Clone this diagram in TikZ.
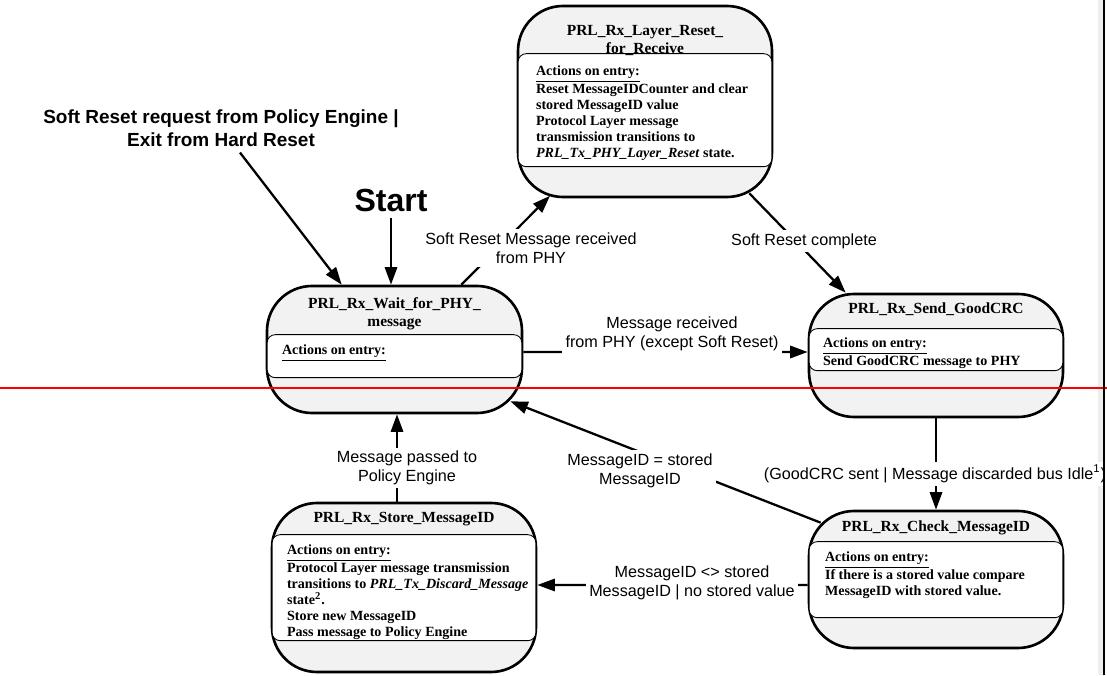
\documentclass[tikz,border=0pt]{standalone}
\usepackage{fontspec}
\setmainfont{Liberation Serif}
\newfontfamily\sansfam{Liberation Sans}
\usetikzlibrary{positioning,arrows.meta,calc}
\definecolor{stategray}{RGB}{242,242,242}
\definecolor{stripgray}{RGB}{238,238,238}

\begin{document}
\begin{tikzpicture}[
  statebox/.style={draw, line width=1.5pt, rounded corners=0.9cm, fill=stategray, inner sep=0pt},
  inbox/.style={draw, line width=0.5pt, rounded corners=0.16cm, fill=white},
  title/.style={font=\bfseries\fontsize{8.8}{10.2}\selectfont, align=center, inner sep=0pt},
  body/.style={font=\bfseries\fontsize{8}{9}\selectfont, align=left, anchor=north west, inner sep=0pt},
  lbl/.style={font=\sansfam\fontsize{9.2}{10.8}\selectfont, align=center, fill=white, inner sep=1.8pt},
  arr/.style={line width=1.3pt, -{Triangle[length=10pt,width=7pt]}}
]
  \useasboundingbox (0,0) rectangle (22.14,13.5);
  \fill[stripgray] (21.96,0) rectangle (22.06,13.5);

  % states
  \node[statebox, minimum width=5.08cm, minimum height=3.82cm] (reset) at (12.9,11.47) {};
  \node[statebox, minimum width=5.10cm, minimum height=2.54cm] (wait) at (7.89,6.51) {};
  \node[statebox, minimum width=5.08cm, minimum height=2.46cm] (send) at (18.72,6.39) {};
  \node[statebox, minimum width=5.28cm, minimum height=3.38cm] (store) at (8.08,1.75) {};
  \node[statebox, minimum width=5.08cm, minimum height=2.74cm] (check) at (18.72,1.91) {};
  \foreach \n/\a/\b in {reset/0.98/3.24, wait/1.0/1.86, send/0.72/1.56, store/0.66/2.78, check/0.64/2.16}
    \draw[inbox] ([shift={(0.03,-\a)}]\n.north west) rectangle ([shift={(-0.03,-\b)}]\n.north east);

  \node[title] (reset-t) at ([yshift=-0.72cm]reset.north) {PRL\_Rx\_Layer\_Reset\_\\for\_Receive};
  \node[title] (wait-t) at ([yshift=-0.58cm]wait.north) {PRL\_Rx\_Wait\_for\_PHY\_\\message};
  \node[title] (send-t) at ([yshift=-0.34cm]send.north) {PRL\_Rx\_Send\_GoodCRC};
  \node[title] (store-t) at ([yshift=-0.34cm]store.north) {PRL\_Rx\_Store\_MessageID};
  \node[title] (check-t) at ([yshift=-0.36cm]check.north) {PRL\_Rx\_Check\_MessageID};

  \node[body] (reset-b) at ([shift={(0.38,-1.22)}]reset.north west) {\underline{Actions on entry:}\\Reset MessageIDCounter and clear\\stored MessageID value\\Protocol Layer message\\transmission transitions to\\\textit{PRL\_Tx\_PHY\_Layer\_Reset} state.};
  \node[body] (wait-b) at ([shift={(0.32,-1.2)}]wait.north west) {\underline{Actions on entry:}};
  \node[body] (send-b) at ([shift={(0.3,-0.9)}]send.north west) {\underline{Actions on entry:}\\Send GoodCRC message to PHY};
  \node[body] (store-b) at ([shift={(0.32,-0.86)}]store.north west) {\underline{Actions on entry:}\\Protocol Layer message transmission\\transitions to \textit{PRL\_Tx\_Discard\_Message}\\state\textsuperscript{2}.\\Store new MessageID\\Pass message to Policy Engine};
  \node[body] (check-b) at ([shift={(0.34,-0.84)}]check.north west) {\underline{Actions on entry:}\\If there is a stored value compare\\MessageID with stored value.};

  % entries
  \node[font=\sansfam\bfseries\fontsize{10.8}{13}\selectfont, align=center] (srq) at (4.42,10.94) {Soft Reset request from Policy Engine |\\Exit from Hard Reset};
  \node[font=\sansfam\bfseries\fontsize{18.2}{20}\selectfont] (start) at (7.82,9.5) {Start};
  \draw[arr] ([xshift=0.38cm]srq.south) -- ([xshift=1.52cm]wait.north west);
  \draw[arr] (start.south) -- (start.south |- wait.north);

  % transitions
  \draw[arr] ([xshift=-1.24cm]wait.north east) -- ([shift={(-1.9,0.05)}]reset.south);
  \draw[arr] ([shift={(-0.48,0.1)}]reset.south east) -- ([xshift=0.76cm]send.north west);
  \draw[arr] ([yshift=-0.05cm]wait.east) -- ([yshift=0.07cm]send.west);
  \draw[arr] (send) -- (check);
  \draw[arr] ([shift={(0.26,-0.26)}]check.north west) -- ([shift={(-0.26,0.26)}]wait.south east);
  \draw[arr] ([yshift=-0.11cm]check.west) -- ([yshift=0.05cm]store.east);
  \draw[arr] ([xshift=-0.14cm]store.north) -- ([xshift=0.05cm]wait.south);

  \node[lbl] (l-srm) at (10.62,8.54) {Soft Reset Message received\\from PHY};
  \node[lbl] (l-src) at (16.08,8.68) {Soft Reset complete};
  \node[lbl] (l-msg) at (13.44,6.82) {Message received\\from PHY (except Soft Reset)};
  \node[lbl] (l-gcrc) at (18.7,4.02) {(GoodCRC sent | Message discarded bus Idle\textsuperscript{1})};
  \node[lbl] (l-same) at (12.8,4.09) {MessageID = stored\\MessageID};
  \node[lbl] (l-new) at (13.84,1.84) {MessageID <> stored\\MessageID | no stored value};
  \node[lbl] (l-pass) at (8.14,4.14) {Message passed to\\Policy Engine};

  \draw[red, line width=1.1pt] (0,5.74) -- (22.14,5.74);
  \draw[line width=1.4pt] (22.08,0) -- (22.08,13.5);
\end{tikzpicture}
\end{document}
